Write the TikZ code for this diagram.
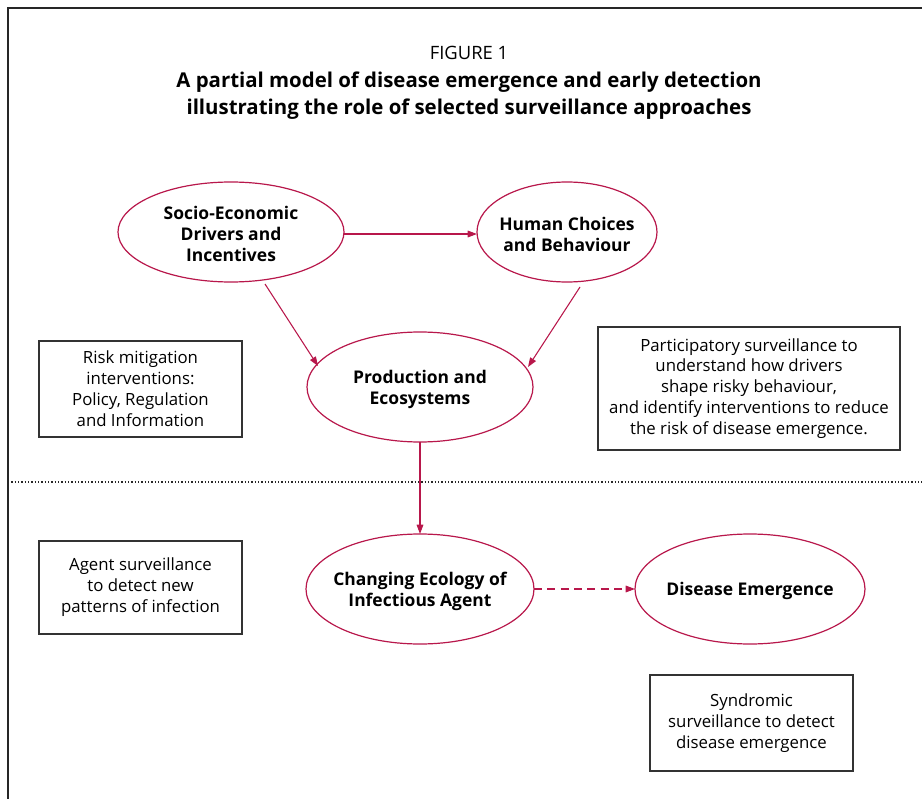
\documentclass[tikz,border=0pt]{standalone}
\usepackage{fontspec}
\setmainfont{Open Sans}
\usetikzlibrary{arrows.meta}
\definecolor{crim}{HTML}{B8174B}
\tikzset{
  lab/.style={font=\fontsize{13.1}{15.7}\selectfont\bfseries, align=center, yshift=-1.5pt},
  txtbox/.style={draw=black!80, line width=0.8pt, font=\fontsize{12.6}{15.7}\selectfont, align=center, inner sep=0pt},
  conn/.style={draw=crim, line width=0.8pt, -{Triangle[length=7pt,width=5pt]}},
  ellp/.style={crim, line width=0.9pt, fill=white},
}
\begin{document}
\begin{tikzpicture}[x=0.75pt,y=-0.75pt]
\useasboundingbox (0,0) rectangle (922,799);
% frame
\draw[line width=0.8pt, black!85] (8,799) -- (8,8) -- (922,8);
\draw[line width=1.1pt, dash pattern=on 0.9pt off 1.6pt, black!85] (8,482) -- (922,482);
% titles
\node (fig) at (469,53) {\fontsize{13.8}{16}\selectfont FIGURE 1};
\node (t1) at (469,82) {\fontsize{15.3}{17}\selectfont\bfseries A partial model of disease emergence and early detection};
\node (t2) at (469,109) {\fontsize{15.3}{17}\selectfont\bfseries illustrating the role of selected surveillance approaches};
% ellipses
\draw[ellp] (231,232) ellipse [x radius=113, y radius=50];
\node[lab] (se) at (231,232) {Socio-Economic\\Drivers and\\Incentives};
\draw[ellp] (567,232) ellipse [x radius=90, y radius=50];
\node[lab] (hc) at (567,232) {Human Choices\\and Behaviour};
\draw[ellp] (420,387) ellipse [x radius=113, y radius=55];
\node[lab] (pe) at (420,387) {Production and\\Ecosystems};
\draw[ellp] (420,589) ellipse [x radius=114, y radius=55];
\node[lab] (ce) at (420,589) {Changing Ecology of\\Infectious Agent};
\draw[ellp] (750,589) ellipse [x radius=115, y radius=55];
\node[lab] (de) at (750,589) {Disease Emergence};
% anchor coordinates on ellipse edges
\coordinate (seR) at (344,234);
\coordinate (hcL) at (477,234);
\coordinate (seB) at (265,284);
\coordinate (peL) at (318,366);
\coordinate (hcB) at (580,287);
\coordinate (peR) at (528,367);
\coordinate (peB) at (420,442);
\coordinate (ceT) at (420,534);
\coordinate (ceR) at (534,589);
\coordinate (deL) at (635,589);
% connectors
\draw[conn] (seR) -- (hcL);
\draw[conn] (seB) -- (peL);
\draw[conn] (hcB) -- (peR);
\draw[conn] (peB) -- (ceT);
\draw[conn, dash pattern=on 6pt off 4pt] (ceR) -- (deL);
% boxes
\node[txtbox, minimum width=152.25pt, minimum height=72pt] (risk) at (140.5,389) {Risk mitigation\\interventions:\\Policy, Regulation\\and Information};
\node[txtbox, minimum width=226.5pt, minimum height=92.25pt] (part) at (749,388.5) {Participatory surveillance to\\understand how drivers\\shape risky behaviour,\\and identify interventions to reduce\\the risk of disease emergence.};
\node[txtbox, minimum width=152.25pt, minimum height=69.75pt] (agent) at (140.5,587.5) {Agent surveillance\\to detect new\\patterns of infection};
\node[txtbox, minimum width=152.25pt, minimum height=72pt] (synd) at (751.5,723) {Syndromic\\surveillance to detect\\disease emergence};
\end{tikzpicture}
\end{document}
